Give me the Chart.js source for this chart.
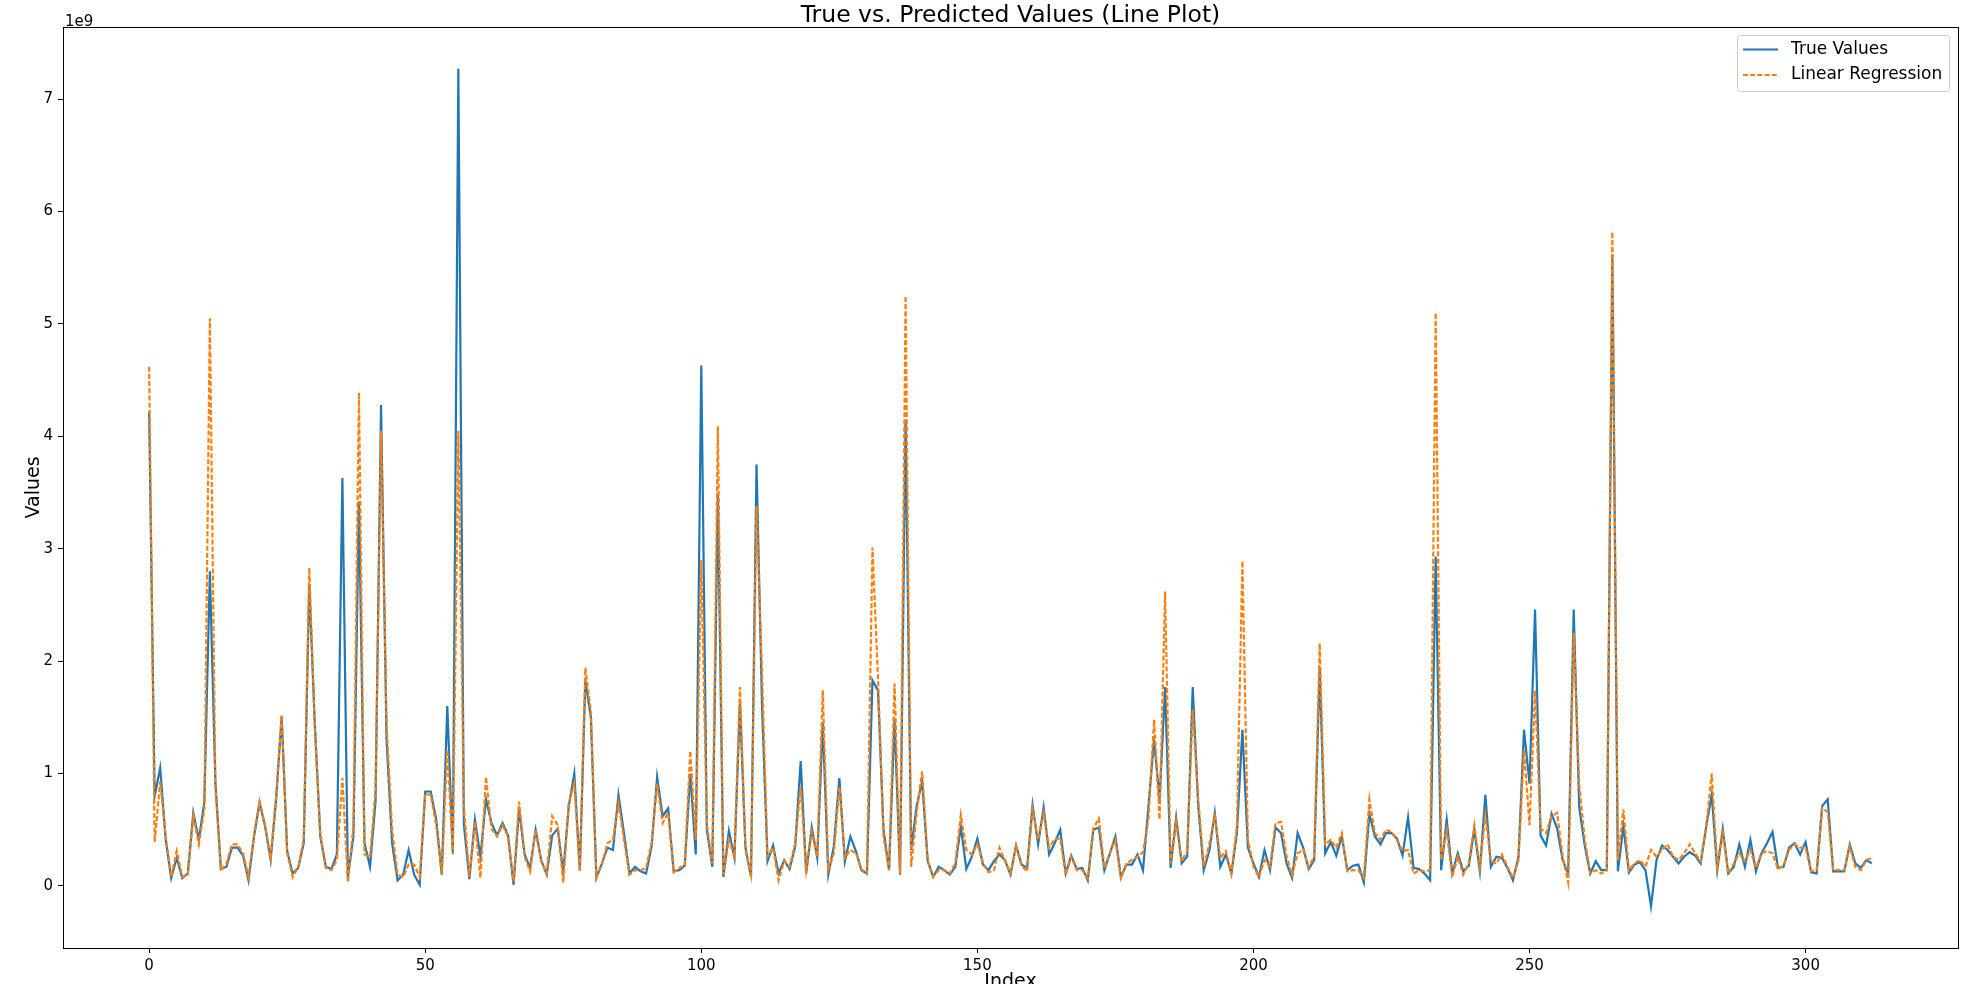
<!DOCTYPE html>
<html>
<head>
<meta charset="utf-8">
<title>True vs. Predicted Values (Line Plot)</title>
<script src="https://cdn.jsdelivr.net/npm/chart.js@4.4.1/dist/chart.umd.min.js"></script>
<style>
    html, body { margin: 0; padding: 0; background: #fff; overflow: hidden; }
    canvas { display: block; }
</style>
</head>
<body>
<canvas id="lineChart" width="1982" height="984"></canvas>
<script>
// values are in units of 1e9 (the axis shows the "1e9" offset)
const trueValues = [
    4.22, 0.80, 1.05, 0.41, 0.07, 0.25, 0.07, 0.11, 0.65, 0.41,   // 0-9
    0.75, 2.80, 0.92, 0.15, 0.17, 0.34, 0.34, 0.27, 0.05, 0.44,   // 10-19
    0.74, 0.53, 0.23, 0.77, 1.51, 0.31, 0.11, 0.16, 0.38, 2.68,   // 20-29
    1.45, 0.44, 0.17, 0.15, 0.28, 3.63, 0.08, 0.44, 3.42, 0.38,   // 30-39
    0.17, 0.75, 4.28, 1.30, 0.38, 0.05, 0.10, 0.32, 0.10, 0.01,   // 40-49
    0.84, 0.84, 0.59, 0.10, 1.60, 0.30, 7.27, 0.55, 0.06, 0.59,   // 50-59
    0.26, 0.77, 0.56, 0.45, 0.56, 0.45, 0.01, 0.68, 0.28, 0.16,   // 60-69
    0.50, 0.23, 0.10, 0.45, 0.51, 0.12, 0.71, 1.00, 0.14, 1.83,   // 70-79
    1.50, 0.07, 0.20, 0.34, 0.32, 0.81, 0.47, 0.11, 0.17, 0.13,   // 80-89
    0.11, 0.35, 0.97, 0.62, 0.69, 0.13, 0.14, 0.18, 1.00, 0.28,   // 90-99
    4.63, 0.50, 0.17, 3.50, 0.08, 0.49, 0.25, 1.62, 0.34, 0.08,   // 100-109
    3.75, 1.60, 0.22, 0.36, 0.11, 0.23, 0.15, 0.35, 1.11, 0.11,   // 110-119
    0.52, 0.25, 1.45, 0.10, 0.35, 0.96, 0.22, 0.44, 0.31, 0.14,   // 120-129
    0.11, 1.83, 1.74, 0.50, 0.14, 1.48, 0.10, 4.15, 0.32, 0.71,   // 130-139
    0.93, 0.22, 0.08, 0.17, 0.14, 0.10, 0.17, 0.53, 0.15, 0.26,   // 140-149
    0.42, 0.19, 0.14, 0.22, 0.28, 0.23, 0.10, 0.36, 0.19, 0.16,   // 150-159
    0.72, 0.37, 0.70, 0.28, 0.38, 0.50, 0.11, 0.27, 0.15, 0.16,   // 160-169
    0.05, 0.50, 0.52, 0.14, 0.29, 0.44, 0.08, 0.19, 0.19, 0.28,   // 170-179
    0.14, 0.72, 1.30, 0.77, 1.77, 0.16, 0.61, 0.20, 0.26, 1.77,   // 180-189
    0.71, 0.14, 0.31, 0.65, 0.17, 0.28, 0.11, 0.47, 1.39, 0.34,   // 190-199
    0.20, 0.08, 0.32, 0.14, 0.52, 0.47, 0.20, 0.07, 0.47, 0.34,   // 200-209
    0.15, 0.23, 1.94, 0.29, 0.39, 0.27, 0.44, 0.14, 0.18, 0.19,   // 210-219
    0.03, 0.64, 0.44, 0.37, 0.47, 0.47, 0.42, 0.27, 0.61, 0.16,   // 220-229
    0.15, 0.11, 0.05, 2.93, 0.14, 0.59, 0.11, 0.29, 0.13, 0.18,   // 230-239
    0.50, 0.13, 0.81, 0.17, 0.26, 0.25, 0.16, 0.05, 0.26, 1.39,   // 240-249
    0.91, 2.46, 0.45, 0.36, 0.64, 0.51, 0.23, 0.11, 2.46, 0.70,   // 250-259
    0.36, 0.11, 0.22, 0.14, 0.14, 5.62, 0.13, 0.53, 0.12, 0.19,   // 260-269
    0.21, 0.14, -0.18, 0.23, 0.36, 0.32, 0.26, 0.20, 0.26, 0.30,  // 270-279
    0.27, 0.20, 0.53, 0.81, 0.14, 0.51, 0.11, 0.17, 0.37, 0.17,   // 280-289
    0.41, 0.13, 0.29, 0.38, 0.48, 0.16, 0.17, 0.34, 0.38, 0.28,   // 290-299
    0.39, 0.12, 0.11, 0.71, 0.77, 0.13, 0.13, 0.13, 0.37, 0.20,   // 300-309
    0.16, 0.23, 0.20                                              // 310-312
];

const linRegValues = [
    4.62, 0.39, 0.93, 0.44, 0.08, 0.31, 0.08, 0.10, 0.62, 0.37,   // 0-9
    0.68, 5.05, 0.88, 0.14, 0.20, 0.37, 0.37, 0.29, 0.08, 0.45,   // 10-19
    0.75, 0.54, 0.25, 0.80, 1.52, 0.29, 0.08, 0.17, 0.41, 2.83,   // 20-29
    1.40, 0.47, 0.16, 0.14, 0.23, 0.96, 0.03, 0.53, 4.39, 0.28,   // 30-39
    0.26, 0.85, 4.05, 1.45, 0.50, 0.10, 0.08, 0.19, 0.19, 0.08,   // 40-49
    0.82, 0.81, 0.54, 0.11, 1.21, 0.28, 4.05, 0.70, 0.08, 0.57,   // 50-59
    0.07, 0.97, 0.51, 0.44, 0.54, 0.44, 0.04, 0.75, 0.26, 0.13,   // 60-69
    0.50, 0.22, 0.11, 0.62, 0.54, 0.03, 0.74, 0.91, 0.13, 1.94,   // 70-79
    1.55, 0.08, 0.19, 0.38, 0.41, 0.74, 0.41, 0.10, 0.14, 0.14,   // 80-89
    0.16, 0.38, 0.91, 0.56, 0.65, 0.12, 0.16, 0.18, 1.20, 0.41,   // 90-99
    2.90, 0.55, 0.20, 4.09, 0.10, 0.41, 0.26, 1.77, 0.32, 0.10,   // 100-109
    3.38, 1.90, 0.26, 0.34, 0.05, 0.22, 0.17, 0.38, 0.88, 0.14,   // 110-119
    0.48, 0.26, 1.74, 0.14, 0.29, 0.88, 0.25, 0.32, 0.29, 0.15,   // 120-129
    0.11, 3.01, 1.85, 0.44, 0.14, 1.80, 0.11, 5.25, 0.17, 0.65,   // 130-139
    1.02, 0.23, 0.08, 0.14, 0.14, 0.11, 0.20, 0.63, 0.32, 0.28,   // 140-149
    0.37, 0.21, 0.12, 0.14, 0.34, 0.22, 0.11, 0.35, 0.18, 0.13,   // 150-159
    0.68, 0.41, 0.65, 0.34, 0.42, 0.42, 0.10, 0.26, 0.14, 0.14,   // 160-169
    0.07, 0.51, 0.60, 0.16, 0.29, 0.41, 0.07, 0.20, 0.23, 0.26,   // 170-179
    0.30, 0.60, 1.48, 0.59, 2.62, 0.20, 0.57, 0.22, 0.31, 1.57,   // 180-189
    0.77, 0.17, 0.37, 0.62, 0.25, 0.31, 0.11, 0.53, 2.89, 0.41,   // 190-199
    0.17, 0.08, 0.23, 0.17, 0.56, 0.57, 0.26, 0.10, 0.29, 0.32,   // 200-209
    0.17, 0.26, 2.16, 0.37, 0.41, 0.34, 0.47, 0.13, 0.14, 0.14,   // 210-219
    0.07, 0.77, 0.47, 0.41, 0.50, 0.48, 0.41, 0.31, 0.32, 0.11,   // 220-229
    0.14, 0.13, 0.14, 5.10, 0.23, 0.50, 0.08, 0.26, 0.10, 0.20,   // 230-239
    0.54, 0.17, 0.63, 0.22, 0.20, 0.28, 0.17, 0.07, 0.23, 1.21,   // 240-249
    0.54, 1.74, 0.51, 0.47, 0.62, 0.65, 0.26, 0.03, 2.25, 0.90,   // 250-259
    0.41, 0.11, 0.14, 0.11, 0.14, 5.82, 0.23, 0.68, 0.14, 0.20,   // 260-269
    0.23, 0.17, 0.32, 0.26, 0.32, 0.37, 0.26, 0.23, 0.29, 0.37,   // 270-279
    0.29, 0.22, 0.53, 1.00, 0.17, 0.47, 0.11, 0.20, 0.29, 0.22,   // 280-289
    0.32, 0.16, 0.29, 0.31, 0.29, 0.15, 0.18, 0.32, 0.37, 0.34,   // 290-299
    0.34, 0.13, 0.14, 0.69, 0.66, 0.14, 0.14, 0.14, 0.35, 0.17,   // 300-309
    0.14, 0.23, 0.25                                              // 310-312
];

const xTickValues = [0, 50, 100, 150, 200, 250, 300];
const yTickValues = [0, 1, 2, 3, 4, 5, 6, 7];

const FONT = "'DejaVu Sans', 'Liberation Sans', sans-serif";

// x: index, y: value
function toPoints(values) {
    return values.map((v, i) => ({ x: i, y: v }));
}

// range like matplotlib: 5% margin on both sides
const n = trueValues.length;
const allValues = trueValues.concat(linRegValues);
const yLo = Math.min(...allValues), yHi = Math.max(...allValues);
const yPad = (yHi - yLo) * 0.05;
const xPad = (n - 1) * 0.05;

// рамка, заголовки, легенда
const decorPlugin = {
    id: 'decor',
    afterDraw(chart) {
        const ctx = chart.ctx;
        const a = chart.chartArea;
        ctx.save();

        // spines
        ctx.strokeStyle = '#000';
        ctx.lineWidth = 1;
        ctx.strokeRect(Math.round(a.left) + 0.5, Math.round(a.top) + 0.5,
            Math.round(a.right - a.left), Math.round(a.bottom - a.top));

        ctx.fillStyle = '#000';

        // title
        ctx.font = '23.5px ' + FONT;
        ctx.textAlign = 'center';
        ctx.textBaseline = 'alphabetic';
        ctx.fillText('True vs. Predicted Values (Line Plot)', (a.left + a.right) / 2, 22);

        // offset text
        ctx.font = '15px ' + FONT;
        ctx.textAlign = 'left';
        ctx.fillText('1e9', a.left + 2, 26);

        // axis titles
        ctx.font = '19px ' + FONT;
        ctx.textAlign = 'center';
        ctx.textBaseline = 'middle';
        ctx.fillText('Index', (a.left + a.right) / 2, 982);
        ctx.save();
        ctx.translate(34, (a.top + a.bottom) / 2);
        ctx.rotate(-Math.PI / 2);
        ctx.fillText('Values', 0, 0);
        ctx.restore();

        // legend
        const bx = 1737, by = 35, bw = 212, bh = 56;
        ctx.fillStyle = 'rgba(255,255,255,0.8)';
        ctx.strokeStyle = '#cccccc';
        ctx.beginPath();
        ctx.roundRect(bx + 0.5, by + 0.5, bw, bh, 3);
        ctx.fill();
        ctx.stroke();

        const items = [
            { label: 'True Values', color: '#1f77b4', dash: [], y: 49.5 },
            { label: 'Linear Regression', color: '#ff7f0e', dash: [5, 2.2], y: 75 }
        ];
        ctx.font = '17px ' + FONT;
        ctx.textAlign = 'left';
        ctx.textBaseline = 'middle';
        items.forEach(it => {
            ctx.strokeStyle = it.color;
            ctx.lineWidth = 2.2;
            ctx.setLineDash(it.dash);
            ctx.beginPath();
            ctx.moveTo(1743, it.y);
            ctx.lineTo(1778, it.y);
            ctx.stroke();
            ctx.setLineDash([]);
            ctx.fillStyle = '#000';
            ctx.fillText(it.label, 1791, it.y);
        });

        ctx.restore();
    }
};

const ctx = document.getElementById('lineChart').getContext('2d');

const chart = new Chart(ctx, {
    type: 'line',
    data: {
        datasets: [
            {
                label: 'True Values',
                data: toPoints(trueValues),
                borderColor: '#1f77b4',
                borderWidth: 2.2,
                pointRadius: 0,
                tension: 0,
                fill: false,
                order: 1
            },
            {
                label: 'Linear Regression',
                data: toPoints(linRegValues),
                borderColor: '#ff7f0e',
                borderWidth: 2.2,
                borderDash: [5, 2.2],
                pointRadius: 0,
                tension: 0,
                fill: false,
                order: 0
            }
        ]
    },
    options: {
        responsive: false,
        animation: false,
        devicePixelRatio: 1,
        layout: { padding: { top: 27, right: 24, left: 0, bottom: 0 } },
        plugins: {
            legend: { display: false },
            title: { display: false },
            tooltip: { enabled: false }
        },
        scales: {
            x: {
                type: 'linear',
                min: -xPad,
                max: n - 1 + xPad,
                afterFit: s => { s.height = 36; },
                afterBuildTicks: s => { s.ticks = xTickValues.map(v => ({ value: v })); },
                grid: { drawOnChartArea: false, drawTicks: true, tickLength: 5, color: '#000', lineWidth: 1 },
                border: { display: false },
                ticks: {
                    color: '#000',
                    padding: 4,
                    maxRotation: 0,
                    font: { family: FONT, size: 15 },
                    callback: v => String(v)
                }
            },
            y: {
                type: 'linear',
                min: yLo - yPad,
                max: yHi + yPad,
                afterFit: s => { s.width = 63; },
                afterBuildTicks: s => { s.ticks = yTickValues.map(v => ({ value: v })); },
                grid: { drawOnChartArea: false, drawTicks: true, tickLength: 5, color: '#000', lineWidth: 1 },
                border: { display: false },
                ticks: {
                    color: '#000',
                    padding: 5,
                    font: { family: FONT, size: 15 },
                    callback: v => String(v)
                }
            }
        }
    },
    plugins: [decorPlugin]
});
</script>
</body>
</html>
